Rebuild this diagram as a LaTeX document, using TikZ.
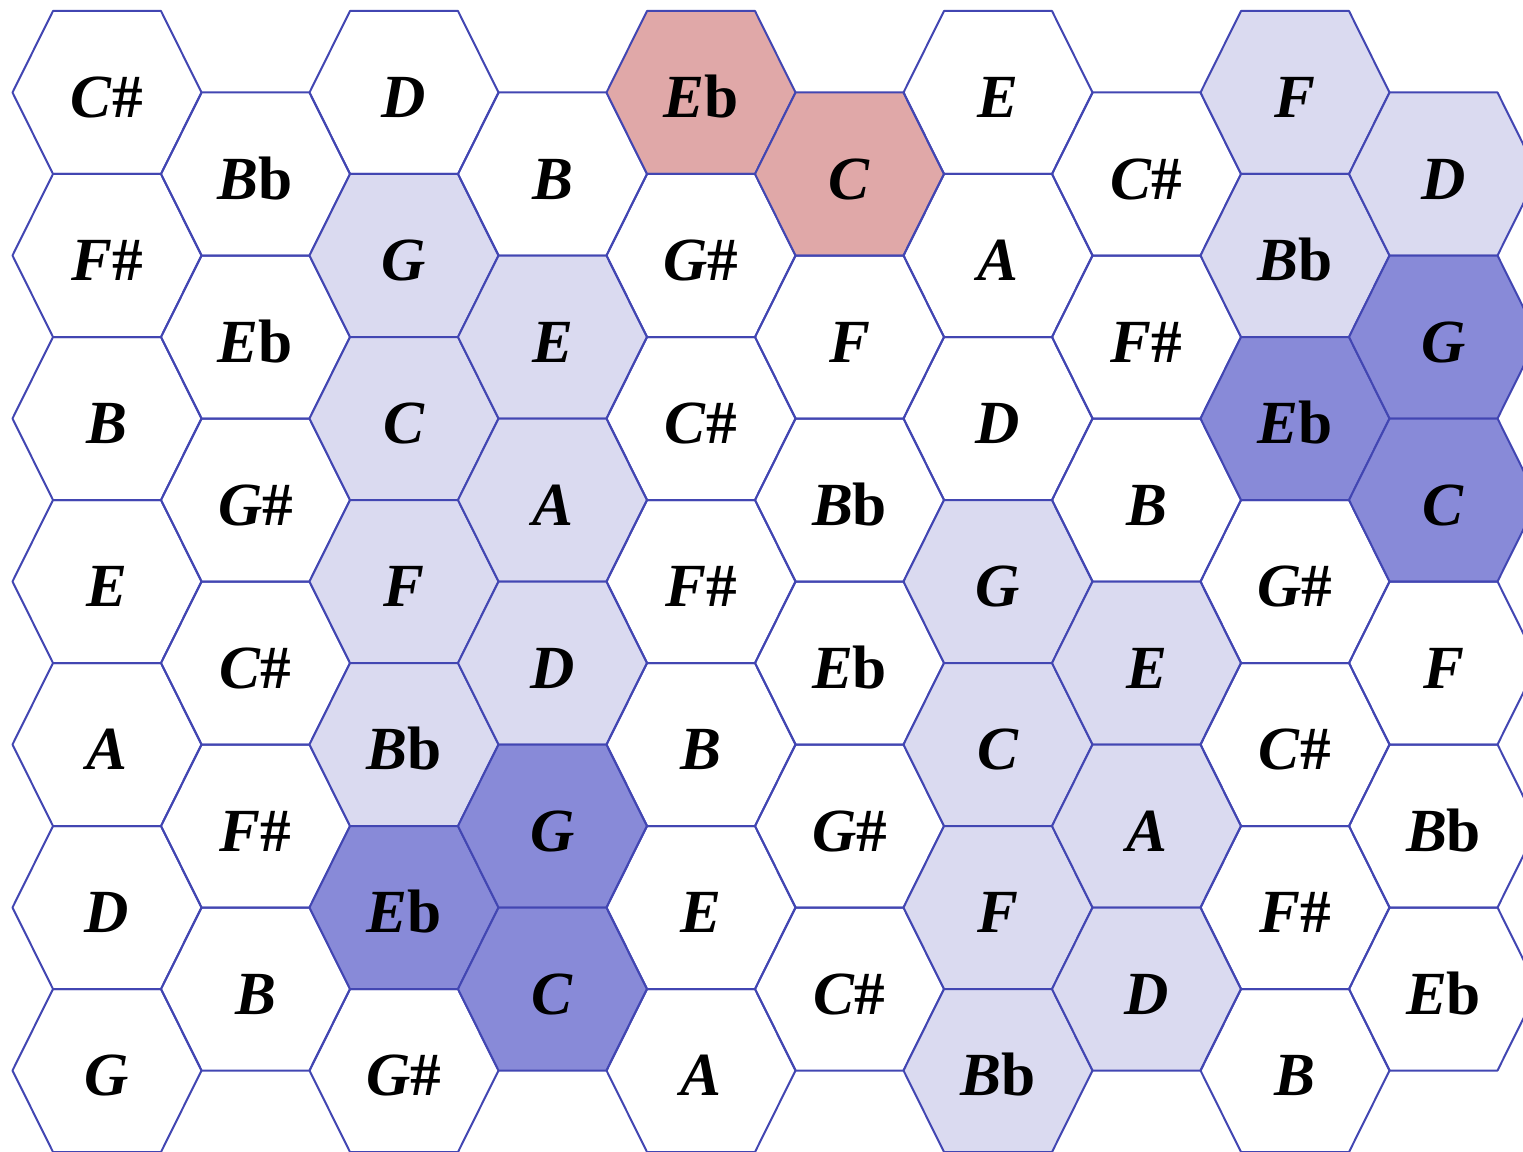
\documentclass[tikz,border=0pt]{standalone}
\usepackage{fontspec}
\setmainfont{Liberation Serif}
\usepackage{tikz}

\begin{document}
\begin{tikzpicture}[x=0.75pt,y=0.75pt,yscale=-1,xscale=1,
    hexcell/.style={insert path={+(-94.5,0) -- +(-54,-81.5) -- +(54,-81.5) -- +(94.5,0) -- +(54,81.5) -- +(-54,81.5) -- cycle}},
    cell/.style={draw={rgb, 255:red, 66; green, 70; blue, 178}, line width=1.5pt, line join=round},
    pale/.style={fill={rgb, 255:red, 218; green, 218; blue, 240}},
    deep/.style={fill={rgb, 255:red, 136; green, 138; blue, 216}},
    rose/.style={fill={rgb, 255:red, 224; green, 168; blue, 168}},
    note/.style={font=\fontsize{46}{55}\selectfont\bfseries, inner sep=0pt, text height=38pt, text depth=0pt}]
    \useasboundingbox (0,0) rectangle (1523,1152);
    \clip (0,0) rectangle (1523,1152);

    % Column 0
    \draw[cell] (107,92.5) node[note] (c0r0) {\textit{C}\#} [hexcell];
    \draw[cell] (107,255.5) node[note] (c0r1) {\textit{F}\#} [hexcell];
    \draw[cell] (107,418.5) node[note] (c0r2) {\textit{B}} [hexcell];
    \draw[cell] (107,581.5) node[note] (c0r3) {\textit{E}} [hexcell];
    \draw[cell] (107,744.5) node[note] (c0r4) {\textit{A}} [hexcell];
    \draw[cell] (107,907.5) node[note] (c0r5) {\textit{D}} [hexcell];
    \draw[cell] (107,1070.5) node[note] (c0r6) {\textit{G}} [hexcell];
    % Column 1
    \draw[cell] (255.5,174) node[note] (c1r0) {\textit{B}b} [hexcell];
    \draw[cell] (255.5,337) node[note] (c1r1) {\textit{E}b} [hexcell];
    \draw[cell] (255.5,500) node[note] (c1r2) {\textit{G}\#} [hexcell];
    \draw[cell] (255.5,663) node[note] (c1r3) {\textit{C}\#} [hexcell];
    \draw[cell] (255.5,826) node[note] (c1r4) {\textit{F}\#} [hexcell];
    \draw[cell] (255.5,989) node[note] (c1r5) {\textit{B}} [hexcell];
    % Column 2
    \draw[cell] (404,92.5) node[note] (c2r0) {\textit{D}} [hexcell];
    \draw[cell,pale] (404,255.5) node[note] (c2r1) {\textit{G}} [hexcell];
    \draw[cell,pale] (404,418.5) node[note] (c2r2) {\textit{C}} [hexcell];
    \draw[cell,pale] (404,581.5) node[note] (c2r3) {\textit{F}} [hexcell];
    \draw[cell,pale] (404,744.5) node[note] (c2r4) {\textit{B}b} [hexcell];
    \draw[cell,deep] (404,907.5) node[note] (c2r5) {\textit{E}b} [hexcell];
    \draw[cell] (404,1070.5) node[note] (c2r6) {\textit{G}\#} [hexcell];
    % Column 3
    \draw[cell] (552.5,174) node[note] (c3r0) {\textit{B}} [hexcell];
    \draw[cell,pale] (552.5,337) node[note] (c3r1) {\textit{E}} [hexcell];
    \draw[cell,pale] (552.5,500) node[note] (c3r2) {\textit{A}} [hexcell];
    \draw[cell,pale] (552.5,663) node[note] (c3r3) {\textit{D}} [hexcell];
    \draw[cell,deep] (552.5,826) node[note] (c3r4) {\textit{G}} [hexcell];
    \draw[cell,deep] (552.5,989) node[note] (c3r5) {\textit{C}} [hexcell];
    % Column 4
    \draw[cell,rose] (701,92.5) node[note] (c4r0) {\textit{E}b} [hexcell];
    \draw[cell] (701,255.5) node[note] (c4r1) {\textit{G}\#} [hexcell];
    \draw[cell] (701,418.5) node[note] (c4r2) {\textit{C}\#} [hexcell];
    \draw[cell] (701,581.5) node[note] (c4r3) {\textit{F}\#} [hexcell];
    \draw[cell] (701,744.5) node[note] (c4r4) {\textit{B}} [hexcell];
    \draw[cell] (701,907.5) node[note] (c4r5) {\textit{E}} [hexcell];
    \draw[cell] (701,1070.5) node[note] (c4r6) {\textit{A}} [hexcell];
    % Column 5
    \draw[cell,rose] (849.5,174) node[note] (c5r0) {\textit{C}} [hexcell];
    \draw[cell] (849.5,337) node[note] (c5r1) {\textit{F}} [hexcell];
    \draw[cell] (849.5,500) node[note] (c5r2) {\textit{B}b} [hexcell];
    \draw[cell] (849.5,663) node[note] (c5r3) {\textit{E}b} [hexcell];
    \draw[cell] (849.5,826) node[note] (c5r4) {\textit{G}\#} [hexcell];
    \draw[cell] (849.5,989) node[note] (c5r5) {\textit{C}\#} [hexcell];
    % Column 6
    \draw[cell] (998,92.5) node[note] (c6r0) {\textit{E}} [hexcell];
    \draw[cell] (998,255.5) node[note] (c6r1) {\textit{A}} [hexcell];
    \draw[cell] (998,418.5) node[note] (c6r2) {\textit{D}} [hexcell];
    \draw[cell,pale] (998,581.5) node[note] (c6r3) {\textit{G}} [hexcell];
    \draw[cell,pale] (998,744.5) node[note] (c6r4) {\textit{C}} [hexcell];
    \draw[cell,pale] (998,907.5) node[note] (c6r5) {\textit{F}} [hexcell];
    \draw[cell,pale] (998,1070.5) node[note] (c6r6) {\textit{B}b} [hexcell];
    % Column 7
    \draw[cell] (1146.5,174) node[note] (c7r0) {\textit{C}\#} [hexcell];
    \draw[cell] (1146.5,337) node[note] (c7r1) {\textit{F}\#} [hexcell];
    \draw[cell] (1146.5,500) node[note] (c7r2) {\textit{B}} [hexcell];
    \draw[cell,pale] (1146.5,663) node[note] (c7r3) {\textit{E}} [hexcell];
    \draw[cell,pale] (1146.5,826) node[note] (c7r4) {\textit{A}} [hexcell];
    \draw[cell,pale] (1146.5,989) node[note] (c7r5) {\textit{D}} [hexcell];
    % Column 8
    \draw[cell,pale] (1295,92.5) node[note] (c8r0) {\textit{F}} [hexcell];
    \draw[cell,pale] (1295,255.5) node[note] (c8r1) {\textit{B}b} [hexcell];
    \draw[cell,deep] (1295,418.5) node[note] (c8r2) {\textit{E}b} [hexcell];
    \draw[cell] (1295,581.5) node[note] (c8r3) {\textit{G}\#} [hexcell];
    \draw[cell] (1295,744.5) node[note] (c8r4) {\textit{C}\#} [hexcell];
    \draw[cell] (1295,907.5) node[note] (c8r5) {\textit{F}\#} [hexcell];
    \draw[cell] (1295,1070.5) node[note] (c8r6) {\textit{B}} [hexcell];
    % Column 9
    \draw[cell,pale] (1443.5,174) node[note] (c9r0) {\textit{D}} [hexcell];
    \draw[cell,deep] (1443.5,337) node[note] (c9r1) {\textit{G}} [hexcell];
    \draw[cell,deep] (1443.5,500) node[note] (c9r2) {\textit{C}} [hexcell];
    \draw[cell] (1443.5,663) node[note] (c9r3) {\textit{F}} [hexcell];
    \draw[cell] (1443.5,826) node[note] (c9r4) {\textit{B}b} [hexcell];
    \draw[cell] (1443.5,989) node[note] (c9r5) {\textit{E}b} [hexcell];

\end{tikzpicture}
\end{document}
